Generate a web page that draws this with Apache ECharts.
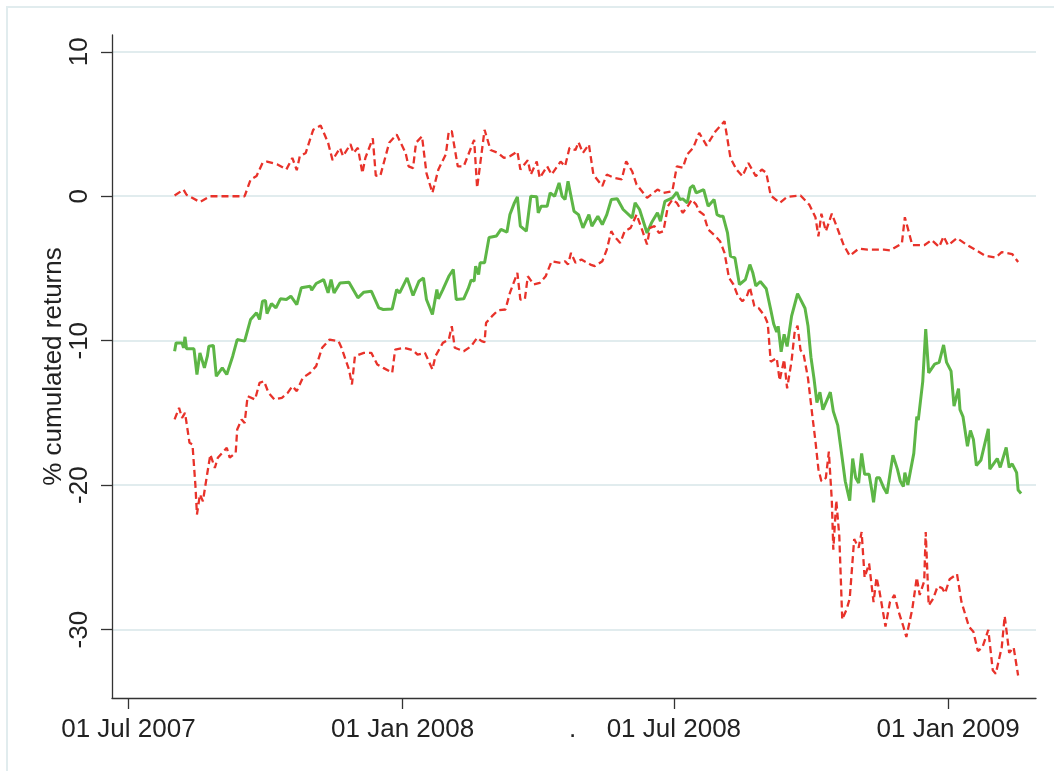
<!DOCTYPE html>
<html>
<head>
<meta charset="utf-8">
<script src="https://cdn.jsdelivr.net/npm/echarts@6/dist/echarts.min.js"></script>
<style>
  html, body { margin: 0; padding: 0; background: #fff; }
  #chart { width: 1054px; height: 771px; }
</style>
</head>
<body>
<div id="chart"></div>
<script>
// [days since 01 Jul 2007, % cumulated return]
const greenPts = [
  [31,-10.73],[32,-10.15],[36,-10.15],[37,-10.5],[38,-9.73],[39,-10.56],[44,-10.56],[46,-12.34],[48,-10.84],[49,-10.84],
  [51,-11.88],[53,-11.07],[54,-10.38],[57,-10.33],[59,-12.46],[63,-11.88],[66,-12.34],[70,-11.07],[73,-9.92],[78,-10.03],
  [82,-8.53],[86,-8.07],[88,-8.53],[90,-7.27],[92,-7.22],[93,-8.12],[96,-7.43],[99,-7.73],[102,-7.1],[106,-7.15],
  [109,-6.92],[113,-7.5],[116,-6.34],[122,-6.23],[123,-6.5],[126,-6.04],[131,-5.77],[134,-6.69],[136,-5.77],[138,-6.69],
  [142,-6.0],[148,-5.95],[154,-7.03],[158,-6.64],[163,-6.57],[168,-7.73],[171,-7.84],[177,-7.8],[180,-6.46],[182,-6.69],
  [187,-5.65],[191,-6.87],[195,-5.88],[198,-5.65],[200,-7.15],[204,-8.19],[207,-6.46],[208,-7.1],[211,-6.46],[215,-5.54],
  [218,-5.07],[220,-7.15],[225,-7.1],[228,-6.4],[230,-5.8],[232,-5.88],[233,-4.84],[235,-5.42],[236,-4.61],[239,-4.61],
  [242,-2.85],[247,-2.75],[250,-2.3],[254,-2.49],[256,-1.27],[259,-0.46],[261,-0.04],[263,-2.07],[267,-2.42],[270,0],
  [274,-0.04],[275,-1.15],[277,-0.69],[281,-0.69],[283,0.23],[286,0],[289,0.92],[291,0],[293,-0.23],[295,1.04],
  [299,-1.04],[302,-1.27],[305,-2.19],[309,-1.27],[311,-2.07],[315,-1.38],[318,-1.96],[321,-1.27],[324,-0.23],[328,-0.18],
  [332,-0.92],[338,-1.5],[340,-0.46],[343,-0.92],[348,-2.54],[351,-1.84],[355,-1.15],[357,-1.73],[360,-0.35],[365,-0.11],
  [368,0.28],[370,-0.23],[372,-0.18],[375,-0.46],[377,0.58],[379,0.74],[381,0.23],[386,0.46],[389,-0.69],[393,-0.23],
  [395,-1.27],[397,-1.38],[399,-1.38],[402,-2.54],[404,-4.15],[407,-4.27],[410,-6.11],[414,-5.77],[417,-4.73],[419,-5.3],
  [421,-6.2],[424,-5.9],[428,-6.4],[431,-7.85],[433,-8.84],[435,-9.4],[436,-9.0],[438,-10.77],[440,-9.56],[442,-10.4],
  [445,-8.3],[449,-6.75],[451,-7.14],[454,-7.75],[456,-8.96],[458,-11.14],[460,-12.59],[462,-14.29],[464,-13.56],[466,-14.77],
  [471,-13.56],[473,-14.89],[476,-15.86],[479,-18.16],[481,-19.73],[484,-21.07],[486,-18.16],[488,-19.49],[490,-19.85],[492,-17.8],
  [494,-19.25],[497,-19.25],[499,-20.46],[500,-21.19],[502,-19.49],[504,-19.49],[507,-20.22],[509,-20.58],[513,-17.92],[516,-18.89],
  [518,-19.73],[520,-20.1],[521,-19.13],[523,-19.98],[527,-17.8],[529,-15.25],[530,-15.5],[533,-12.83],[535,-9.2],[537,-12.23],
  [541,-11.62],[544,-11.5],[547,-10.29],[549,-11.5],[552,-12.11],[554,-14.53],[557,-13.32],[558,-14.77],[560,-15.25],[563,-17.31],
  [565,-16.22],[567,-16.83],[569,-18.64],[572,-18.28],[577,-16.1],[578,-18.89],[583,-18.16],[585,-18.77],[589,-17.39],[591,-18.77],
  [593,-18.52],[596,-19.13],[597,-20.34],[599,-20.58]
];

const upperPts = [
  [31,0.05],[37,0.46],[39,0.1],[48,-0.4],[55,0],[78,0],[82,1.15],[86,1.4],[90,2.3],[93,2.4],
  [100,2.2],[106,1.85],[110,2.65],[113,1.8],[115,2.77],[119,3.0],[124,4.6],[129,4.9],[134,3.7],[137,2.5],
  [142,3.35],[144,2.77],[149,3.6],[151,3.0],[154,3.35],[157,1.6],[159,2.65],[164,4.0],[166,1.43],[169,1.4],
  [175,3.7],[180,4.27],[186,3.0],[188,2.07],[191,1.95],[193,3.7],[197,4.15],[200,1.6],[204,0.23],[208,1.85],
  [213,2.9],[215,4.5],[217,4.5],[221,2.07],[225,2.07],[232,3.9],[234,0.58],[239,4.6],[243,3.2],[248,3.0],
  [252,2.65],[256,2.77],[261,3.1],[263,1.85],[268,2.5],[270,1.5],[274,2.4],[276,1.27],[281,2.07],[284,1.5],
  [290,2.4],[293,2.07],[296,3.35],[300,3.2],[302,3.74],[305,3.0],[309,3.58],[312,1.5],[318,0.7],[321,1.5],
  [326,1.27],[331,1.16],[334,2.42],[338,1.73],[341,0.81],[348,-0.11],[355,0.46],[359,0.23],[365,0.35],[368,2.07],
  [372,1.97],[375,2.9],[379,3.35],[383,4.39],[388,3.5],[394,4.5],[400,5.19],[404,2.65],[408,1.85],[412,1.38],
  [416,2.3],[421,1.38],[425,1.85],[428,1.62],[431,0.05],[437,-0.46],[442,-0.05],[451,0.05],[457,-0.6],[461,-1.45],
  [463,-2.78],[465,-1.21],[468,-2.42],[472,-1.21],[480,-3.39],[484,-4.12],[490,-3.63],[496,-3.7],[507,-3.7],[511,-3.75],
  [519,-3.27],[521,-1.45],[526,-3.39],[534,-3.39],[539,-3.03],[544,-3.51],[547,-2.78],[550,-3.39],[556,-2.9],[563,-3.39],
  [569,-3.75],[575,-4.12],[582,-4.24],[586,-3.87],[593,-4.0],[597,-4.55]
];

const lowerPts = [
  [31,-15.45],[34,-14.65],[36,-15.34],[38,-14.99],[41,-17.07],[43,-17.18],[45,-20.07],[46,-22.03],[48,-20.64],[50,-21.11],
  [53,-19.14],[55,-17.88],[58,-18.8],[60,-18.1],[66,-17.41],[68,-18.1],[72,-17.76],[73,-16.15],[76,-15.45],[78,-15.7],
  [80,-13.84],[85,-14.07],[88,-12.92],[91,-12.8],[94,-13.6],[98,-14.07],[103,-13.95],[107,-13.6],[110,-13.15],[113,-13.49],
  [117,-12.57],[122,-12.22],[126,-11.76],[130,-10.49],[135,-9.92],[141,-10.03],[143,-10.49],[148,-11.99],[150,-13.03],[152,-11.07],
  [158,-10.84],[163,-10.84],[167,-11.65],[171,-11.88],[177,-12.22],[179,-10.61],[185,-10.49],[191,-10.66],[194,-10.96],[199,-10.84],
  [204,-11.99],[206,-11.07],[211,-10.15],[215,-9.92],[217,-9.0],[219,-10.49],[225,-10.73],[230,-10.38],[234,-9.8],[237,-10.03],
  [239,-10.1],[240,-8.76],[244,-8.3],[248,-7.9],[253,-7.84],[256,-6.69],[261,-5.3],[263,-7.15],[266,-7.15],[268,-5.54],
  [272,-6.11],[276,-6.0],[280,-5.54],[284,-4.5],[290,-4.61],[293,-4.5],[295,-4.73],[297,-3.92],[300,-4.61],[304,-4.38],
  [310,-4.73],[313,-4.84],[318,-4.5],[321,-3.69],[324,-2.42],[326,-2.77],[328,-3.0],[330,-3.23],[333,-2.42],[337,-2.19],
  [341,-1.27],[345,-2.42],[348,-3.34],[350,-2.19],[353,-2.07],[356,-2.54],[359,-2.42],[362,-0.69],[365,-0.23],[368,-0.46],
  [372,-1.15],[376,-0.58],[378,-0.23],[381,-0.58],[383,-1.04],[386,-1.27],[389,-2.3],[394,-2.77],[397,-3.11],[400,-3.92],
  [403,-5.65],[406,-6.11],[409,-6.92],[412,-7.27],[415,-6.92],[417,-6.3],[420,-7.6],[423,-7.75],[427,-8.3],[429,-8.8],
  [431,-11.45],[435,-11.2],[437,-12.75],[440,-11.3],[442,-13.3],[445,-11.4],[447,-9.45],[449,-8.96],[451,-10.65],[453,-10.9],
  [456,-12.59],[459,-15.25],[461,-16.95],[463,-18.89],[465,-19.73],[468,-19.49],[470,-17.68],[472,-21.07],[473,-24.46],[475,-21.07],
  [477,-23.49],[479,-29.3],[482,-28.57],[484,-27.85],[487,-23.73],[490,-24.33],[492,-23.24],[494,-26.39],[497,-25.42],[500,-28.09],
  [502,-26.39],[504,-27.36],[508,-29.78],[511,-28.09],[514,-27.6],[517,-28.81],[520,-29.78],[522,-30.51],[526,-28.57],[529,-26.39],
  [531,-27.6],[534,-26.63],[535,-23.24],[537,-28.33],[540,-27.85],[543,-27.0],[546,-27.12],[548,-27.48],[551,-26.51],[556,-26.15],
  [559,-28.09],[564,-29.78],[567,-30.15],[570,-31.48],[573,-31.23],[577,-30.02],[580,-32.81],[582,-33.05],[586,-31.23],[588,-29.06],
  [591,-31.6],[594,-31.23],[597,-33.17]
];

const xTickDays = [0, 184, 366, 550];   // 01 Jul 2007, 01 Jan 2008, 01 Jul 2008, 01 Jan 2009
const dotDay = 298;                      // stray "." label under the axis
const yTicks = [10, 0, -10, -20, -30];
const months = ['Jan','Feb','Mar','Apr','May','Jun','Jul','Aug','Sep','Oct','Nov','Dec'];

const dayToTime = d => new Date(2007, 6, 1 + d).getTime();
const toData = pts => pts.map(p => [dayToTime(p[0]), p[1]]);
const dotTime = dayToTime(dotDay);

const textColor = '#222';
const axisColor = '#333';
const red = '#e8322a';
const green = '#5db646';

const chart = echarts.init(document.getElementById('chart'));

chart.setOption({
  animation: false,
  backgroundColor: '#fff',
  textStyle: { fontFamily: 'Liberation Sans, Arial, Helvetica, sans-serif' },
  graphic: [{
    type: 'rect',
    shape: { x: 7, y: 7, width: 1100, height: 800 },
    style: { fill: 'none', stroke: '#e1ecee', lineWidth: 2 },
    silent: true
  }],
  grid: { left: 112, right: 18, top: 35, bottom: 73, outerBoundsMode: 'none' },
  xAxis: {
    type: 'value',
    min: dayToTime(-11),
    max: dayToTime(609),
    axisLine: { onZero: false, lineStyle: { color: axisColor, width: 1.3 } },
    axisTick: {
      customValues: xTickDays.map(dayToTime),
      length: 11,
      lineStyle: { color: axisColor, width: 1.3 }
    },
    axisLabel: {
      customValues: xTickDays.map(dayToTime).concat([dotTime]),
      fontSize: 26,
      color: textColor,
      margin: 19,
      formatter: function (v) {
        if (Math.abs(v - dotTime) < 1000) return '.';
        const d = new Date(v);
        const dd = String(d.getDate()).padStart(2, '0');
        return dd + ' ' + months[d.getMonth()] + ' ' + d.getFullYear();
      }
    },
    splitLine: { show: false }
  },
  yAxis: {
    type: 'value',
    min: -34.73,
    max: 11.16,
    name: '% cumulated returns',
    nameLocation: 'middle',
    nameRotate: 90,
    nameGap: 45,
    nameMoveOverlap: false,
    nameTextStyle: { fontSize: 26, color: textColor },
    axisLine: { show: true, onZero: false, lineStyle: { color: axisColor, width: 1.3 } },
    axisTick: {
      show: true,
      customValues: yTicks,
      length: 11,
      lineStyle: { color: axisColor, width: 1.3 }
    },
    axisLabel: {
      customValues: yTicks,
      rotate: 90,
      fontSize: 26,
      color: textColor,
      margin: 19
    },
    splitLine: { show: true, lineStyle: { color: '#e1ecee', width: 2 } }
  },
  series: [
    {
      name: 'cumulated returns',
      type: 'line',
      data: toData(greenPts),
      showSymbol: false,
      lineStyle: { color: green, width: 3 },
      z: 3
    },
    {
      name: 'upper',
      type: 'line',
      data: toData(upperPts),
      showSymbol: false,
      lineStyle: { color: red, width: 2.3, type: [7, 4] },
      z: 4
    },
    {
      name: 'lower',
      type: 'line',
      data: toData(lowerPts),
      showSymbol: false,
      lineStyle: { color: red, width: 2.3, type: [7, 4] },
      z: 4
    }
  ]
});
</script>
</body>
</html>
